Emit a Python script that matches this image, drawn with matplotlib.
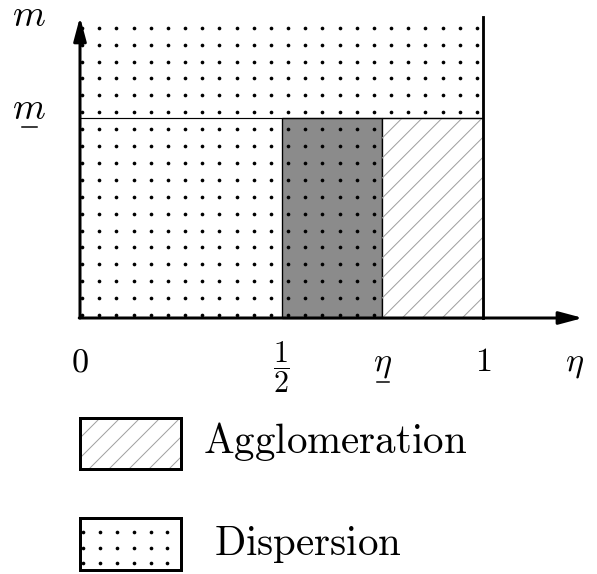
import numpy as np
import matplotlib
matplotlib.use("Agg")
import matplotlib.pyplot as plt
from matplotlib.patches import Rectangle

plt.rcParams['mathtext.fontset'] = 'cm'

# region boundaries (eta axis) and thresholds (m axis)
eta_ticks = [0, 0.5, 0.75, 1]
eta_labels = [r'$0$', r'$\dfrac{1}{2}$', r'$\eta$', r'$1$']
eta_half = 0.5
eta_low = 0.75
eta_max = 1.0
m_low = 2.0
m_top = 3.0
legend_names = ['Agglomeration', 'Dispersion']

DPI = 120
PX = 403.0   # pixels per unit of eta
PY = 100.0   # pixels per unit of m
fig = plt.figure(figsize=(597 / DPI, 574 / DPI), dpi=DPI)
ax = fig.add_axes([0, 0, 1, 1])
ax.set_xlim(-80 / PX, 517 / PX)
ax.set_ylim(-256 / PY, 318 / PY)
ax.axis('off')


def hatch_lines(rect, step=20):
  # 45 degree gray lines clipped to a rectangle patch
  x0, y0 = rect.get_xy()
  w, h = rect.get_width(), rect.get_height()
  cs = np.arange(-h * PY - step, w * PX + step, step)
  for c in cs:
    yy = np.array([y0 - 1, y0 + h + 1])
    xx = x0 + (c + (yy - y0) * PY) / PX
    ln, = ax.plot(xx, yy, color='#a0a0a0', lw=0.6, zorder=1.5)
    ln.set_clip_path(rect)


# dotted texture = dispersion everywhere except agglomeration block
dx, dy = 0.0426, 0.169
gx, gy = np.meshgrid(np.arange(24) * dx + 0.005, np.arange(18) * dy + 0.03)
keep = ~((gx > eta_low) & (gy < m_low))
ax.plot(gx[keep], gy[keep], ls='none', marker='o', ms=2.2, mew=0,
        color='k', zorder=3)

# gray block between 1/2 and eta_
ax.add_patch(Rectangle((eta_half, 0), eta_low - eta_half, m_low,
                       facecolor='#8b8b8b', edgecolor='k', lw=0.8, zorder=1))
# hatched agglomeration block
agg = Rectangle((eta_low, 0), eta_max - eta_low, m_low, facecolor='white',
                edgecolor='k', lw=0.8, zorder=1)
ax.add_patch(agg)
hatch_lines(agg)

# m_ line and eta = 1 line
ax.plot([0, eta_max], [m_low, m_low], color='k', lw=0.7, zorder=4)
ax.plot([eta_max, eta_max], [0, 3.01], color='k', lw=1.7, zorder=4)

# axes with arrows
arr = dict(arrowstyle='-|>,head_length=0.6,head_width=0.16', lw=1.8,
           color='k', shrinkA=0, shrinkB=0, mutation_scale=20)
ax.annotate('', xy=(0, 3.01), xytext=(0, 0), arrowprops=arr, zorder=5)
ax.annotate('', xy=(1.248, 0), xytext=(-0.002, 0), arrowprops=arr, zorder=5)

# labels
label_size = [20.5, 18, 20.5, 20.5]
label_y = [-0.53, -0.56, -0.53, -0.53]
for xv, lab, fs, yv in zip(eta_ticks, eta_labels, label_size, label_y):
  ax.text(xv, yv, lab, ha='center', va='baseline', fontsize=fs)
ax.plot([0.737, 0.767], [-0.64, -0.64], color='k', lw=0.9)  # underline eta
ax.text(1.228, -0.53, r'$\eta$', ha='center', va='baseline', fontsize=20.5)
ax.text(-0.1266, 2.92, r'$m$', ha='center', va='baseline', fontsize=22.5)
ax.text(-0.1266, 1.99, r'$m$', ha='center', va='baseline', fontsize=22.5)
ax.plot([-0.144, -0.107], [1.91, 1.91], color='k', lw=0.9)  # underline m

# legend boxes
bw = 0.2506
box1 = Rectangle((0, -1.51), bw, 0.51, facecolor='white', lw=0, zorder=1)
ax.add_patch(box1)
hatch_lines(box1)
ax.add_patch(Rectangle((0, -1.51), bw, 0.51, fill=False, edgecolor='k',
                       lw=1.8, zorder=2))
ax.add_patch(Rectangle((0, -2.52), bw, 0.52, fill=False, edgecolor='k',
                       lw=1.8))
lx, ly = np.meshgrid(np.arange(6) * 0.042 + 0.007,
                     np.array([-2.14, -2.295, -2.45]))
ax.plot(lx.ravel(), ly.ravel(), ls='none', marker='o', ms=2.2, mew=0,
        color='k')

ax.text(0.305, -1.35, r'$\mathrm{%s}$' % legend_names[0], ha='left',
        va='baseline', fontsize=24.6)
ax.text(0.3325, -2.37, r'$\mathrm{%s}$' % legend_names[1], ha='left',
        va='baseline', fontsize=24.6)

fig.savefig('out.png', dpi=DPI)
